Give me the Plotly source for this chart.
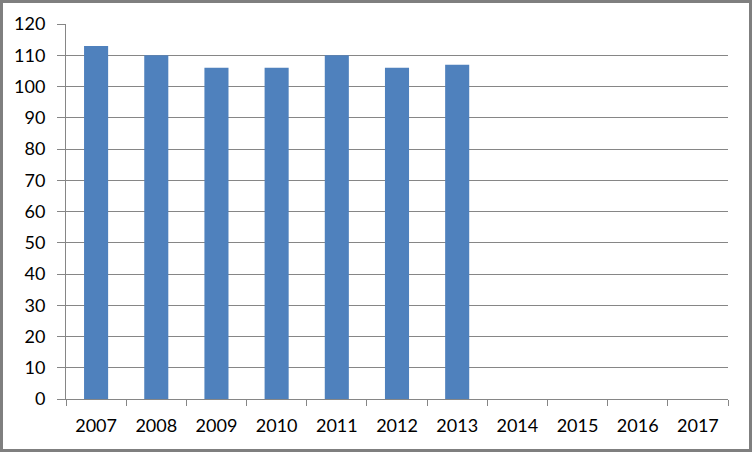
import plotly.graph_objects as go

years = ["2007", "2008", "2009", "2010", "2011", "2012", "2013", "2014", "2015", "2016", "2017"]
values = [113, 110, 106, 106, 110, 106, 107, None, None, None, None]

W, H = 752, 452
ml, mr, mt, mb = 66, 24, 24, 53
pw, ph = W - ml - mr, H - mt - mb

fig = go.Figure(go.Bar(x=years, y=values, marker=dict(color="#4f81bd", line=dict(width=0))))

axcol = "#868686"
fig.update_layout(
    width=W, height=H,
    margin=dict(l=ml, r=mr, t=mt, b=mb, pad=0),
    paper_bgcolor="white", plot_bgcolor="white",
    bargap=0.6, showlegend=False,
    font=dict(family="Lato", size=18, color="#000000"),
    xaxis=dict(type="category", tickson="boundaries", ticks="outside", ticklen=6,
               tickcolor=axcol, showline=True, linecolor=axcol, linewidth=1,
               showgrid=False, ticklabelstandoff=10),
    yaxis=dict(range=[0, 120], dtick=10, ticks="outside", ticklen=8, tickcolor=axcol,
               showline=True, linecolor=axcol, linewidth=1, showgrid=True,
               gridcolor=axcol, gridwidth=1, zeroline=False, ticklabelstandoff=8),
    shapes=[dict(type="rect", xref="paper", yref="paper",
                 x0=(-ml + 1.5) / pw, x1=1 + (mr - 1.5) / pw,
                 y0=(-mb + 1.5) / ph, y1=1 + (mt - 1.5) / ph,
                 line=dict(color="#7f7f7f", width=3), layer="above")],
)

fig.write_html("out.html", config={"displayModeBar": False},
               post_script="document.body.style.margin='0';document.body.style.overflow='hidden';")
